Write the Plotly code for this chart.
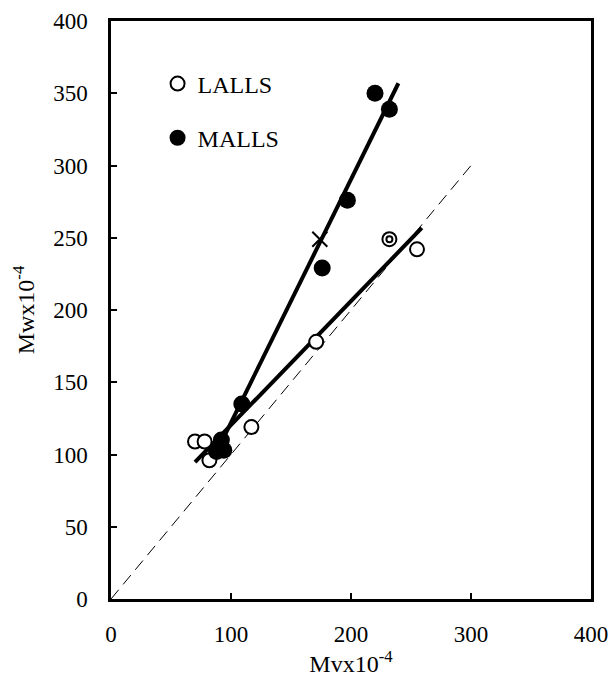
import plotly.graph_objects as go

# LALLS (open circles)
lalls_x = [70, 78, 82, 117, 171, 255]
lalls_y = [109, 109, 96, 119, 178, 242]
# double-ring LALLS point
ring_x = [232]
ring_y = [249]
# MALLS (filled circles)
malls_x = [88, 92, 94, 109, 176, 197, 220, 232]
malls_y = [102, 110, 103, 135, 229, 276, 350, 339]
# cross point
cross_x = [174]
cross_y = [249]
# fitted lines (endpoints x-range, slope, intercept)
lalls_fit_x = [70, 259]
lalls_slope, lalls_int = 0.858, 34.6
malls_fit_x = [85, 239.5]
malls_slope, malls_int = 1.684, -46.4
diag_x = [0, 300]

FONT = "Liberation Serif, Times New Roman, serif"

fig = go.Figure()
fig.add_trace(go.Scatter(x=diag_x, y=diag_x, mode="lines",
                         line=dict(color="black", width=1, dash="12px,7px"),
                         showlegend=False, hoverinfo="skip"))
fig.add_trace(go.Scatter(x=lalls_fit_x, y=[lalls_slope * v + lalls_int for v in lalls_fit_x],
                         mode="lines", line=dict(color="black", width=4), showlegend=False))
fig.add_trace(go.Scatter(x=malls_fit_x, y=[malls_slope * v + malls_int for v in malls_fit_x],
                         mode="lines", line=dict(color="black", width=4), showlegend=False))
fig.add_trace(go.Scatter(x=lalls_x + ring_x, y=lalls_y + ring_y, mode="markers", name="LALLS",
                         legendgroup="a",
                         marker=dict(symbol="circle", size=14, color="white",
                                     line=dict(color="black", width=2))))
fig.add_trace(go.Scatter(x=ring_x, y=ring_y, mode="markers", showlegend=False,
                         marker=dict(symbol="circle-open", size=6, color="black",
                                     line=dict(color="black", width=2))))
fig.add_trace(go.Scatter(x=malls_x, y=malls_y, mode="markers", name="MALLS",
                         legendgroup="b",
                         marker=dict(symbol="circle", size=17, color="black",
                                     line=dict(color="black", width=0))))
fig.add_trace(go.Scatter(x=cross_x, y=cross_y, mode="markers", showlegend=False,
                         marker=dict(symbol="x-thin-open", size=15, color="black",
                                     line=dict(color="black", width=2))))

axis_common = dict(showgrid=False, zeroline=False, showline=True, linecolor="black",
                   linewidth=2.5, mirror=True, ticks="inside", tickcolor="black",
                   ticklen=6, tickwidth=1.5, ticklabeloverflow="allow",
                   tickfont=dict(family=FONT, size=23, color="black"))
fig.update_xaxes(range=[0, 400], dtick=100, tick0=0, ticklabelstandoff=13,
                 title=dict(text="Mvx10<sup>-4</sup>", font=dict(family=FONT, size=24, color="black"),
                            standoff=0), **axis_common)
fig.update_yaxes(range=[0, 400], dtick=50, tick0=0, ticklabelstandoff=16,
                 title=dict(text="Mwx10<sup>-4</sup>", font=dict(family=FONT, size=24, color="black"),
                            standoff=12), **axis_common)

fig.update_layout(
    width=609, height=680,
    margin=dict(l=111, r=18, t=21, b=81, autoexpand=False),
    plot_bgcolor="white", paper_bgcolor="white",
    font=dict(family=FONT, color="black"),
    legend=dict(x=0.097, y=0.93, xanchor="left", yanchor="top",
                font=dict(family=FONT, size=24, color="black"),
                traceorder="grouped", tracegroupgap=20,
                bgcolor="rgba(0,0,0,0)", itemwidth=30),
)

fig.write_html("out.html")
